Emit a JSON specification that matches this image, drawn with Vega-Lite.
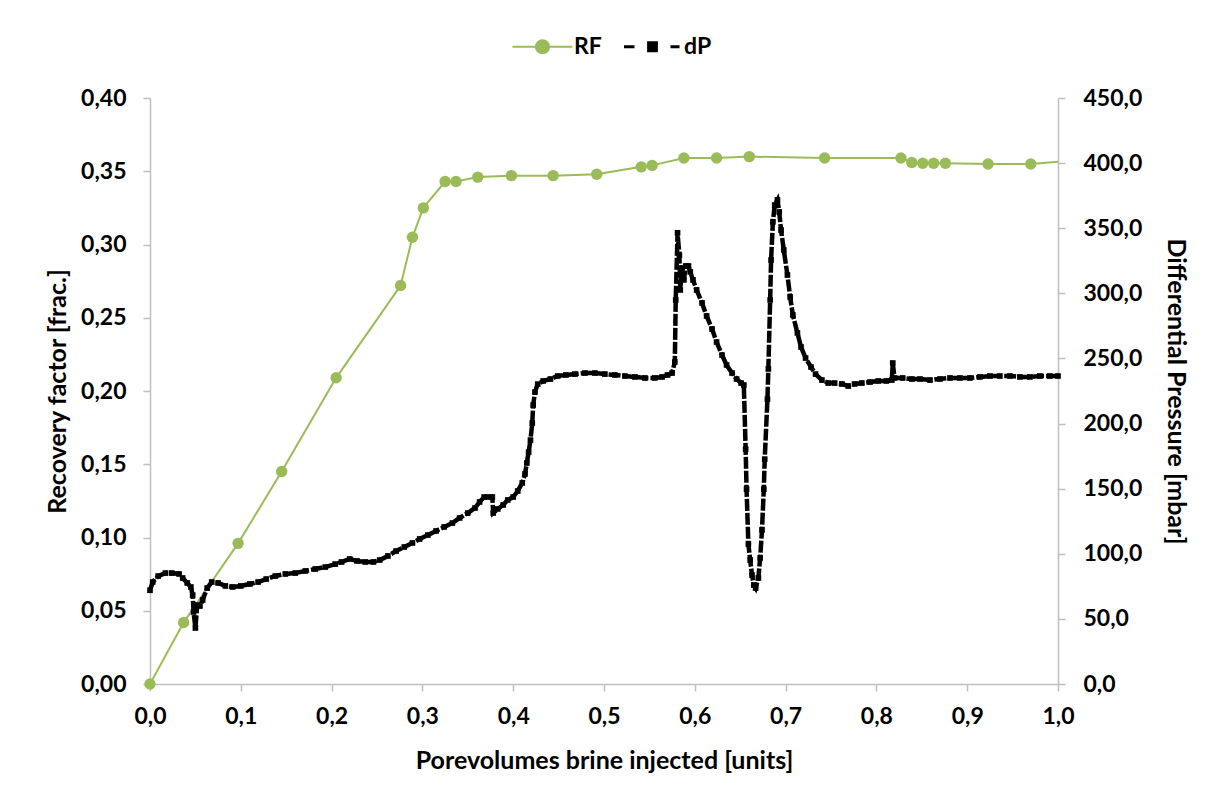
{
  "$schema": "https://vega.github.io/schema/vega-lite/v6.json",
  "width": 908,
  "height": 586,
  "autosize": {"type": "none"},
  "padding": {"left": 150, "top": 98, "right": 155, "bottom": 114},
  "background": "white",
  "datasets": {
    "rf": [
      {"pv": 0.0, "rf": 0.0, "m": 1, "s": "RF"},
      {"pv": 0.037, "rf": 0.042, "m": 1, "s": "RF"},
      {"pv": 0.097, "rf": 0.096, "m": 1, "s": "RF"},
      {"pv": 0.145, "rf": 0.145, "m": 1, "s": "RF"},
      {"pv": 0.205, "rf": 0.209, "m": 1, "s": "RF"},
      {"pv": 0.276, "rf": 0.272, "m": 1, "s": "RF"},
      {"pv": 0.289, "rf": 0.305, "m": 1, "s": "RF"},
      {"pv": 0.301, "rf": 0.325, "m": 1, "s": "RF"},
      {"pv": 0.325, "rf": 0.343, "m": 1, "s": "RF"},
      {"pv": 0.337, "rf": 0.343, "m": 1, "s": "RF"},
      {"pv": 0.361, "rf": 0.346, "m": 1, "s": "RF"},
      {"pv": 0.398, "rf": 0.347, "m": 1, "s": "RF"},
      {"pv": 0.444, "rf": 0.347, "m": 1, "s": "RF"},
      {"pv": 0.492, "rf": 0.348, "m": 1, "s": "RF"},
      {"pv": 0.541, "rf": 0.353, "m": 1, "s": "RF"},
      {"pv": 0.553, "rf": 0.354, "m": 1, "s": "RF"},
      {"pv": 0.588, "rf": 0.359, "m": 1, "s": "RF"},
      {"pv": 0.624, "rf": 0.359, "m": 1, "s": "RF"},
      {"pv": 0.66, "rf": 0.36, "m": 1, "s": "RF"},
      {"pv": 0.743, "rf": 0.359, "m": 1, "s": "RF"},
      {"pv": 0.827, "rf": 0.359, "m": 1, "s": "RF"},
      {"pv": 0.839, "rf": 0.356, "m": 1, "s": "RF"},
      {"pv": 0.851, "rf": 0.3555, "m": 1, "s": "RF"},
      {"pv": 0.863, "rf": 0.3555, "m": 1, "s": "RF"},
      {"pv": 0.876, "rf": 0.3555, "m": 1, "s": "RF"},
      {"pv": 0.923, "rf": 0.355, "m": 1, "s": "RF"},
      {"pv": 0.97, "rf": 0.355, "m": 1, "s": "RF"},
      {"pv": 1.0, "rf": 0.3565, "m": 0, "s": "RF"}
    ],
    "dp": [
      {"pv": 0.000, "dp": 72.0}, {"pv": 0.003, "dp": 78.3}, {"pv": 0.009, "dp": 82.9}, {"pv": 0.017, "dp": 85.2},
      {"pv": 0.024, "dp": 85.2}, {"pv": 0.032, "dp": 84.5}, {"pv": 0.036, "dp": 81.4}, {"pv": 0.041, "dp": 77.6},
      {"pv": 0.045, "dp": 74.5}, {"pv": 0.047, "dp": 68.3}, {"pv": 0.048, "dp": 55.3}, {"pv": 0.050, "dp": 43.0},
      {"pv": 0.052, "dp": 60.6}, {"pv": 0.055, "dp": 59.9}, {"pv": 0.058, "dp": 64.5}, {"pv": 0.063, "dp": 73.7},
      {"pv": 0.068, "dp": 78.3}, {"pv": 0.075, "dp": 77.6}, {"pv": 0.083, "dp": 75.3}, {"pv": 0.091, "dp": 74.5},
      {"pv": 0.100, "dp": 75.3}, {"pv": 0.110, "dp": 76.8}, {"pv": 0.119, "dp": 78.3}, {"pv": 0.128, "dp": 80.6},
      {"pv": 0.138, "dp": 82.9}, {"pv": 0.149, "dp": 84.5}, {"pv": 0.160, "dp": 85.2}, {"pv": 0.171, "dp": 86.8},
      {"pv": 0.182, "dp": 88.3}, {"pv": 0.193, "dp": 89.8}, {"pv": 0.204, "dp": 92.1}, {"pv": 0.211, "dp": 93.7},
      {"pv": 0.220, "dp": 96.0}, {"pv": 0.228, "dp": 94.5}, {"pv": 0.237, "dp": 93.7}, {"pv": 0.246, "dp": 93.7},
      {"pv": 0.253, "dp": 95.2}, {"pv": 0.262, "dp": 98.3}, {"pv": 0.271, "dp": 102.1}, {"pv": 0.280, "dp": 105.2},
      {"pv": 0.289, "dp": 108.3}, {"pv": 0.297, "dp": 111.4}, {"pv": 0.306, "dp": 114.4}, {"pv": 0.315, "dp": 117.5},
      {"pv": 0.324, "dp": 120.6}, {"pv": 0.333, "dp": 123.6}, {"pv": 0.341, "dp": 127.5}, {"pv": 0.350, "dp": 131.3},
      {"pv": 0.358, "dp": 135.2}, {"pv": 0.363, "dp": 139.8}, {"pv": 0.368, "dp": 143.6}, {"pv": 0.372, "dp": 143.6},
      {"pv": 0.377, "dp": 143.6}, {"pv": 0.378, "dp": 131.3}, {"pv": 0.383, "dp": 134.4}, {"pv": 0.389, "dp": 137.5},
      {"pv": 0.394, "dp": 141.3}, {"pv": 0.400, "dp": 143.6}, {"pv": 0.405, "dp": 148.2}, {"pv": 0.410, "dp": 154.4},
      {"pv": 0.413, "dp": 161.3}, {"pv": 0.415, "dp": 169.7}, {"pv": 0.417, "dp": 178.1}, {"pv": 0.419, "dp": 187.3},
      {"pv": 0.421, "dp": 200.4}, {"pv": 0.422, "dp": 214.2}, {"pv": 0.424, "dp": 224.2}, {"pv": 0.427, "dp": 230.3},
      {"pv": 0.433, "dp": 232.7}, {"pv": 0.441, "dp": 234.2}, {"pv": 0.449, "dp": 236.5}, {"pv": 0.458, "dp": 237.3},
      {"pv": 0.468, "dp": 238.0}, {"pv": 0.479, "dp": 238.8}, {"pv": 0.490, "dp": 238.8}, {"pv": 0.501, "dp": 238.0},
      {"pv": 0.512, "dp": 237.3}, {"pv": 0.523, "dp": 236.5}, {"pv": 0.534, "dp": 235.8}, {"pv": 0.545, "dp": 235.0},
      {"pv": 0.556, "dp": 235.0}, {"pv": 0.564, "dp": 235.8}, {"pv": 0.570, "dp": 237.3}, {"pv": 0.575, "dp": 238.8},
      {"pv": 0.578, "dp": 247.3}, {"pv": 0.579, "dp": 294.9}, {"pv": 0.581, "dp": 346.5}, {"pv": 0.583, "dp": 329.4},
      {"pv": 0.584, "dp": 302.6}, {"pv": 0.586, "dp": 319.5}, {"pv": 0.588, "dp": 310.3}, {"pv": 0.590, "dp": 321.0},
      {"pv": 0.593, "dp": 321.0}, {"pv": 0.595, "dp": 316.4}, {"pv": 0.598, "dp": 310.3}, {"pv": 0.602, "dp": 302.6},
      {"pv": 0.608, "dp": 292.6}, {"pv": 0.613, "dp": 282.6}, {"pv": 0.619, "dp": 272.6}, {"pv": 0.624, "dp": 262.6},
      {"pv": 0.630, "dp": 252.6}, {"pv": 0.635, "dp": 245.0}, {"pv": 0.641, "dp": 238.8}, {"pv": 0.646, "dp": 234.2},
      {"pv": 0.651, "dp": 231.1}, {"pv": 0.654, "dp": 229.6}, {"pv": 0.656, "dp": 180.3}, {"pv": 0.657, "dp": 149.6},
      {"pv": 0.659, "dp": 107.5}, {"pv": 0.661, "dp": 95.2}, {"pv": 0.663, "dp": 83.7}, {"pv": 0.665, "dp": 76.0},
      {"pv": 0.667, "dp": 73.7}, {"pv": 0.670, "dp": 81.4}, {"pv": 0.672, "dp": 96.8}, {"pv": 0.674, "dp": 118.3},
      {"pv": 0.676, "dp": 149.6}, {"pv": 0.677, "dp": 172.6}, {"pv": 0.680, "dp": 218.7}, {"pv": 0.681, "dp": 241.9},
      {"pv": 0.683, "dp": 294.9}, {"pv": 0.684, "dp": 325.6}, {"pv": 0.686, "dp": 354.8}, {"pv": 0.688, "dp": 367.8},
      {"pv": 0.691, "dp": 371.7}, {"pv": 0.693, "dp": 362.5}, {"pv": 0.695, "dp": 348.6}, {"pv": 0.698, "dp": 333.3},
      {"pv": 0.702, "dp": 314.1}, {"pv": 0.705, "dp": 297.2}, {"pv": 0.708, "dp": 283.4}, {"pv": 0.713, "dp": 269.6},
      {"pv": 0.717, "dp": 258.8}, {"pv": 0.722, "dp": 250.3}, {"pv": 0.728, "dp": 243.4}, {"pv": 0.733, "dp": 238.0},
      {"pv": 0.740, "dp": 233.4}, {"pv": 0.747, "dp": 231.1}, {"pv": 0.754, "dp": 231.1}, {"pv": 0.762, "dp": 230.4},
      {"pv": 0.769, "dp": 228.8}, {"pv": 0.776, "dp": 230.4}, {"pv": 0.784, "dp": 231.1}, {"pv": 0.793, "dp": 231.9},
      {"pv": 0.802, "dp": 232.7}, {"pv": 0.811, "dp": 232.7}, {"pv": 0.817, "dp": 233.4}, {"pv": 0.818, "dp": 246.5},
      {"pv": 0.820, "dp": 235.0}, {"pv": 0.829, "dp": 235.0}, {"pv": 0.839, "dp": 234.2}, {"pv": 0.848, "dp": 234.2},
      {"pv": 0.859, "dp": 233.4}, {"pv": 0.870, "dp": 234.2}, {"pv": 0.881, "dp": 235.0}, {"pv": 0.892, "dp": 235.0},
      {"pv": 0.903, "dp": 235.0}, {"pv": 0.914, "dp": 235.8}, {"pv": 0.925, "dp": 236.5}, {"pv": 0.936, "dp": 236.5},
      {"pv": 0.947, "dp": 236.5}, {"pv": 0.958, "dp": 235.8}, {"pv": 0.969, "dp": 235.8}, {"pv": 0.980, "dp": 236.5},
      {"pv": 0.991, "dp": 236.5}, {"pv": 1.000, "dp": 236.5}
    ]
  },
  "config": {
    "view": {"stroke": null},
    "font": "Lato",
    "axis": {
      "grid": false,
      "labelFlush": false,
      "domainColor": "#bfbfbf",
      "tickColor": "#bfbfbf",
      "domainWidth": 1.5,
      "tickWidth": 1.5,
      "tickSize": 7,
      "labelFont": "Lato",
      "labelFontWeight": "bold",
      "labelFontSize": 23,
      "labelColor": "#000000",
      "titleFont": "Lato",
      "titleFontWeight": "bold",
      "titleFontSize": 25,
      "titleColor": "#000000"
    }
  },
  "layer": [
    {
      "layer": [
        {
          "data": {"name": "rf"},
          "mark": {"type": "line", "strokeWidth": 2, "clip": true},
          "encoding": {
            "x": {"field": "pv", "type": "quantitative", "scale": {"domain": [0, 1], "nice": false},
                  "axis": {"title": "Porevolumes brine injected [units]", "values": [0, 0.1, 0.2, 0.3, 0.4, 0.5, 0.6, 0.7, 0.8, 0.9, 1.0],
                           "labelExpr": "replace(format(datum.value, '.1f'), '.', ',')", "labelPadding": 14, "titlePadding": 20}},
            "y": {"field": "rf", "type": "quantitative", "scale": {"domain": [0, 0.4], "nice": false},
                  "axis": {"title": "Recovery factor [frac.]", "values": [0, 0.05, 0.1, 0.15, 0.2, 0.25, 0.3, 0.35, 0.4],
                           "labelExpr": "replace(format(datum.value, '.2f'), '.', ',')", "labelPadding": 17, "titlePadding": 10}},
            "color": {"field": "s", "type": "nominal",
                      "scale": {"domain": ["RF", "dP"], "range": ["#9bbb59", "#000000"]},
                      "legend": {
                        "title": null, "orient": "none", "direction": "horizontal",
                        "legendX": 381, "legendY": -63,
                        "symbolSize": 3600, "symbolStrokeWidth": 2.5,
                        "labelFont": "Lato", "labelFontWeight": "bold", "labelFontSize": 23, "labelColor": "#000000",
                        "labelOffset": 20, "columnPadding": 16, "padding": 0,
                        "encode": {"symbols": {"update": {
                          "shape": {"signal": "datum.value === 'RF' ? 'M-1,0H1M0.22,0A0.22,0.22,0,1,1,-0.22,0A0.22,0.22,0,1,1,0.22,0Z' : 'M-0.95,0H-0.6M0.6,0H0.9M-0.13,-0.13H0.13V0.13H-0.13Z'"},
                          "fill": {"signal": "datum.value === 'RF' ? '#9bbb59' : '#000000'"},
                          "stroke": {"signal": "datum.value === 'RF' ? '#9bbb59' : '#000000'"},
                          "strokeWidth": {"signal": "datum.value === 'RF' ? 2 : 3"},
                          "opacity": {"value": 1}
                        }}}
                      }}
          }
        },
        {
          "data": {"name": "rf"},
          "transform": [{"filter": "datum.m == 1"}],
          "mark": {"type": "point", "filled": true, "size": 130, "opacity": 1, "shape": "circle"},
          "encoding": {
            "x": {"field": "pv", "type": "quantitative"},
            "y": {"field": "rf", "type": "quantitative"},
            "color": {"field": "s", "type": "nominal"}
          }
        }
      ]
    },
    {
      "data": {"name": "dp"},
      "layer": [
        {
          "mark": {"type": "line", "strokeWidth": 4.5, "strokeDash": [12, 2], "color": "#000000"},
          "encoding": {
            "x": {"field": "pv", "type": "quantitative"},
            "y": {"field": "dp", "type": "quantitative", "scale": {"domain": [0, 450], "nice": false},
                  "axis": {"orient": "right", "title": "Differential Pressure [mbar]", "values": [0, 50, 100, 150, 200, 250, 300, 350, 400, 450],
                           "labelExpr": "replace(format(datum.value, '.1f'), '.', ',')", "labelPadding": 18, "titlePadding": 21}}
          }
        },
        {
          "mark": {"type": "square", "size": 32, "color": "#000000", "opacity": 1, "filled": true},
          "encoding": {
            "x": {"field": "pv", "type": "quantitative"},
            "y": {"field": "dp", "type": "quantitative"}
          }
        }
      ]
    }
  ],
  "resolve": {"scale": {"y": "independent"}}
}
